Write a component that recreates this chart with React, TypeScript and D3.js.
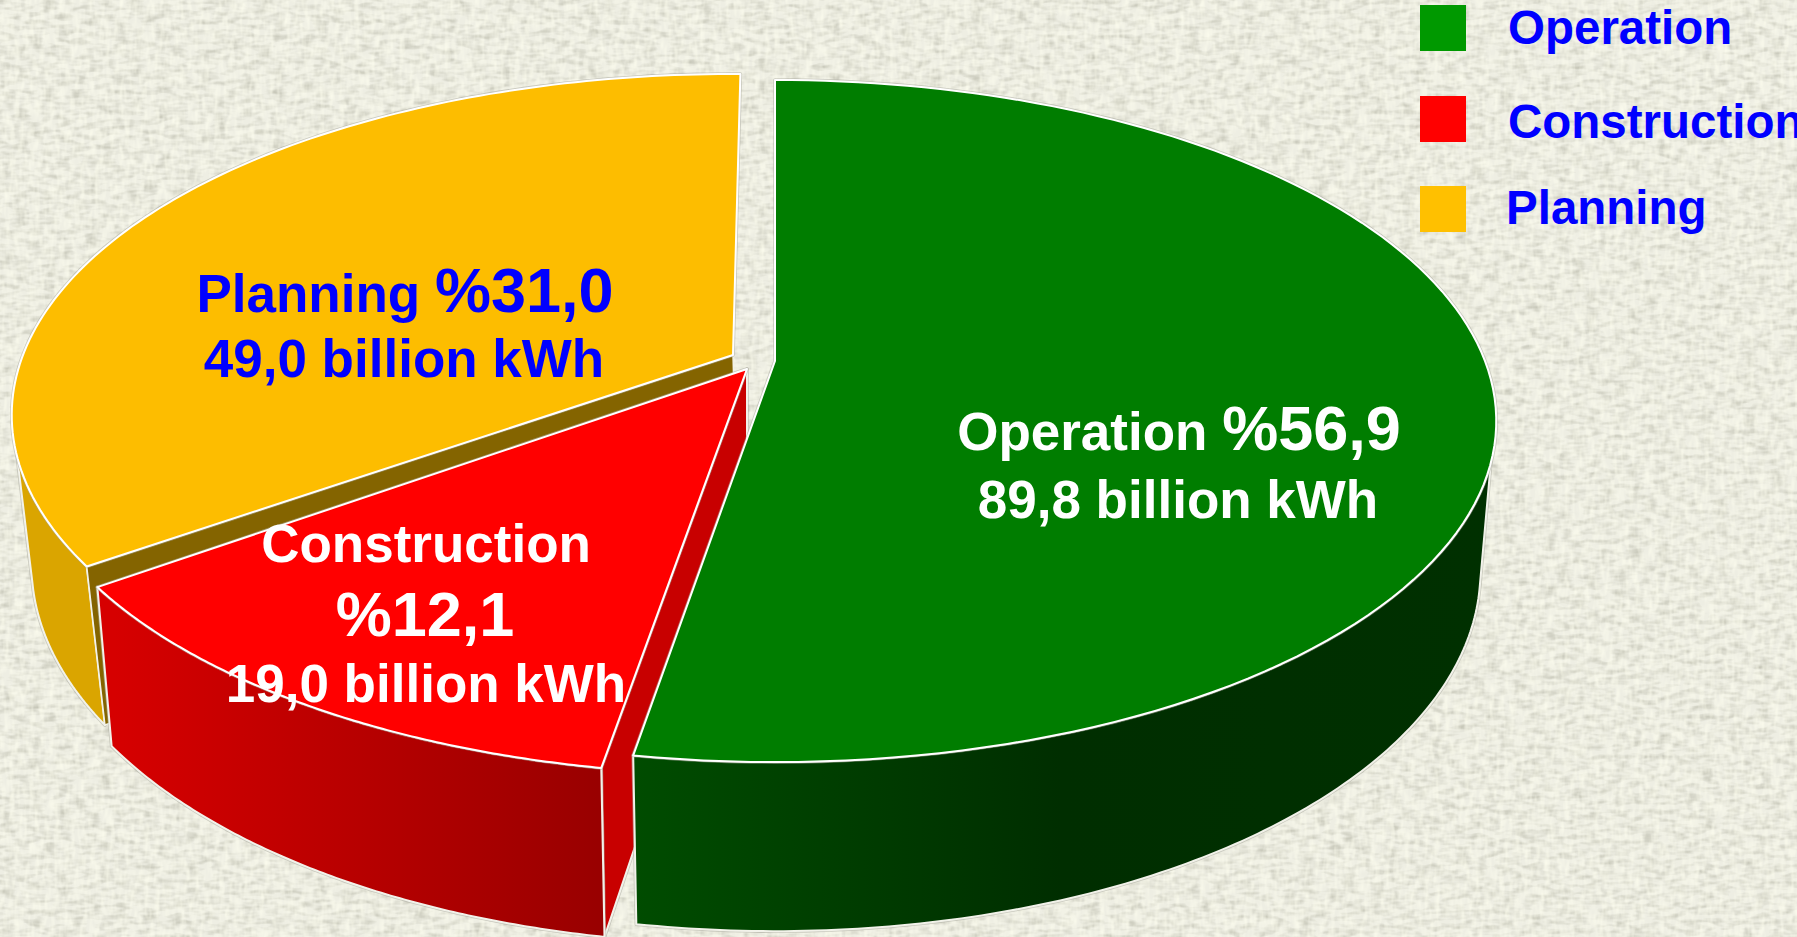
import React from "react";
import * as d3 from "d3";

const WIDTH = 1797;
const HEIGHT = 937;

const categories = ["Operation", "Construction", "Planning"];
const shares = [56.9, 12.1, 31.0];
const shareLabels = ["%56,9", "%12,1", "%31,0"];
const energyLabels = ["89,8 billion kWh", "19,0 billion kWh", "49,0 billion kWh"];
const topColors = ["#007D00", "#FF0000", "#FDBD00"];
const legendColors = ["#009900", "#FF0000", "#FFC000"];
const labelColors = ["#FFFFFF", "#FFFFFF", "#0000FF"];

// Screen position of each exploded slice's apex on the top face.
const apexX = [775, 747, 733];
const apexY = [361, 369, 355];
const radialScale = [1, 1.012, 1];
const bottomShiftX = [0, 0, 4];

// The 3D view in the reference foreshortens the sweep of the slices:
// each slice's pie sweep is mapped onto the sweep it has on screen.
const viewStart = [0, 189.65, 234.9];
const viewEnd = [189.5, 234.2, 360.7];
// Where each slice's outer wall starts or stops being visible (view degrees).
const wallTopFrom = [107, 189.65, 234.9];
const wallTopTo = [189.5, 234.2, 253];
const wallBottomFrom = [103, 189.65, 234.9];
const wallBottomTo = [189.5, 234.2, 257];

// Perspective projection of the unit disc.
const AX = 710;
const BY = 330.5;
const K = 0.176;
// Bottom plane relative to the top plane.
const SIDE_SX = 0.978;
const SIDE_SY = 1.055;
const SIDE_DY = 147;

type Pt = [number, number];

const arcs = d3.pie<number>().sort(null).startAngle(0).endAngle(2 * Math.PI)(shares);
const toDeg = (r: number) => (r * 180) / Math.PI;
const angleViews = arcs.map((a, i) =>
  d3.scaleLinear().domain([toDeg(a.startAngle), toDeg(a.endAngle)]).range([viewStart[i], viewEnd[i]])
);

function projectView(deg: number, slice: number, bottom: boolean): Pt {
  const t = (deg * Math.PI) / 180;
  const X = Math.sin(t);
  const Y = -Math.cos(t);
  const w = 1 - K * Y;
  const dx = ((AX * X) / w) * radialScale[slice];
  const dy = ((BY * Y) / w) * radialScale[slice];
  return bottom
    ? [apexX[slice] + bottomShiftX[slice] + dx * SIDE_SX, apexY[slice] + SIDE_DY + dy * SIDE_SY]
    : [apexX[slice] + dx, apexY[slice] + dy];
}

const apex = (i: number, bottom: boolean): Pt =>
  bottom ? [apexX[i] + bottomShiftX[i], apexY[i] + SIDE_DY] : [apexX[i], apexY[i]];

const closed = d3.line<Pt>().curve(d3.curveLinearClosed);

function sweep(i: number, from: number, to: number, bottom: boolean): Pt[] {
  return d3.range(0, 121).map((n) => projectView(from + ((to - from) * n) / 120, i, bottom));
}

const topPath = (i: number) => {
  const a = arcs[i];
  return closed([
    apex(i, false),
    ...sweep(i, angleViews[i](toDeg(a.startAngle)), angleViews[i](toDeg(a.endAngle)), false),
  ]) as string;
};
const sidePath = (i: number) =>
  closed([
    ...sweep(i, wallTopFrom[i], wallTopTo[i], false),
    ...sweep(i, wallBottomFrom[i], wallBottomTo[i], true).reverse(),
  ]) as string;
const facePath = (i: number) => {
  const deg = angleViews[i](toDeg(arcs[i].startAngle));
  return closed([apex(i, false), projectView(deg, i, false), projectView(deg, i, true), apex(i, true)]) as string;
};

function Solid({ d, fill, stroke = "#F2F2EA", width = 2 }: { d: string; fill: string; stroke?: string; width?: number }) {
  return (
    <g>
      <path d={d} fill="none" stroke="#A9A99E" strokeWidth={width + 1.6} strokeOpacity={0.55} strokeLinejoin="round" />
      <path d={d} fill={fill} stroke={stroke} strokeWidth={width} strokeLinejoin="round" />
    </g>
  );
}

const FONT = "'Liberation Sans', Arial, sans-serif";
const SMALL = 53;
const BIG = 63;

export default function App() {
  return (
    <svg
      width={WIDTH}
      height={HEIGHT}
      viewBox={`0 0 ${WIDTH} ${HEIGHT}`}
      style={{ position: "absolute", left: 0, top: 0, display: "block" }}
      fontFamily={FONT}
      fontWeight="bold"
    >
      <defs>
        <filter id="linen" x="0" y="0" width="100%" height="100%" colorInterpolationFilters="sRGB">
          <feTurbulence type="fractalNoise" baseFrequency="0.07 0.2" numOctaves={2} seed={4} result="h" />
          <feColorMatrix in="h" type="matrix" values="0 0 0 0 0.62  0 0 0 0 0.62  0 0 0 0 0.55  1.0 0 0 0 -0.4" result="hh" />
          <feTurbulence type="fractalNoise" baseFrequency="0.2 0.07" numOctaves={2} seed={9} result="v" />
          <feColorMatrix in="v" type="matrix" values="0 0 0 0 1  0 0 0 0 1  0 0 0 0 0.94  1.3 0 0 0 -0.45" result="vv" />
          <feMerge result="m">
            <feMergeNode in="SourceGraphic" />
            <feMergeNode in="hh" />
            <feMergeNode in="vv" />
          </feMerge>
          <feGaussianBlur in="m" stdDeviation="0.7" />
        </filter>
        <linearGradient id="sideGreen" gradientUnits="userSpaceOnUse" x1={634} x2={1490} y1={0} y2={0}>
          <stop offset="0" stopColor="#004C00" />
          <stop offset="0.5" stopColor="#002E00" />
          <stop offset="1" stopColor="#003000" />
        </linearGradient>
        <linearGradient id="sideRed" gradientUnits="userSpaceOnUse" x1={115} x2={606} y1={0} y2={0}>
          <stop offset="0" stopColor="#D60000" />
          <stop offset="1" stopColor="#980000" />
        </linearGradient>
      </defs>

      <rect x={-4} y={-4} width={WIDTH + 8} height={HEIGHT + 8} fill="#EEEEE3" filter="url(#linen)" />

      {/* Planning */}
      <Solid d={sidePath(2)} fill="#DAA500" />
      <path d={facePath(2)} fill="#846400" stroke="#F2F2EA" strokeWidth={1.5} />
      <Solid d={topPath(2)} fill={topColors[2]} stroke="#FFFFFF" />

      {/* Construction */}
      <Solid d={facePath(1)} fill="#C80000" />
      <Solid d={sidePath(1)} fill="url(#sideRed)" />
      <Solid d={topPath(1)} fill={topColors[1]} stroke="#FFFFFF" />

      {/* Operation */}
      <Solid d={sidePath(0)} fill="url(#sideGreen)" />
      <Solid d={topPath(0)} fill={topColors[0]} stroke="#FFFFFF" />

      {/* Slice labels */}
      <g textAnchor="middle" fill={labelColors[2]}>
        <text x={405} y={312}>
          <tspan fontSize={SMALL}>{categories[2]} </tspan>
          <tspan fontSize={BIG}>{shareLabels[2]}</tspan>
        </text>
        <text x={404} y={377} fontSize={SMALL}>{energyLabels[2]}</text>
      </g>
      <g textAnchor="middle" fill={labelColors[1]}>
        <text x={426} y={562} fontSize={SMALL}>{categories[1]}</text>
        <text x={425} y={636} fontSize={BIG}>{shareLabels[1]}</text>
        <text x={426} y={702} fontSize={SMALL}>{energyLabels[1]}</text>
      </g>
      <g textAnchor="middle" fill={labelColors[0]}>
        <text x={1179} y={450}>
          <tspan fontSize={SMALL}>{categories[0]} </tspan>
          <tspan fontSize={BIG}>{shareLabels[0]}</tspan>
        </text>
        <text x={1178} y={518} fontSize={SMALL}>{energyLabels[0]}</text>
      </g>

      {/* Legend */}
      {categories.map((c, i) => (
        <g key={c}>
          <rect x={1420} y={[5, 96, 186][i]} width={46} height={46} fill={legendColors[i]} />
          <text x={[1508, 1508, 1506][i]} y={[44, 138, 224][i]} fontSize={47.5} fill="#0000FF">{c}</text>
        </g>
      ))}
    </svg>
  );
}
